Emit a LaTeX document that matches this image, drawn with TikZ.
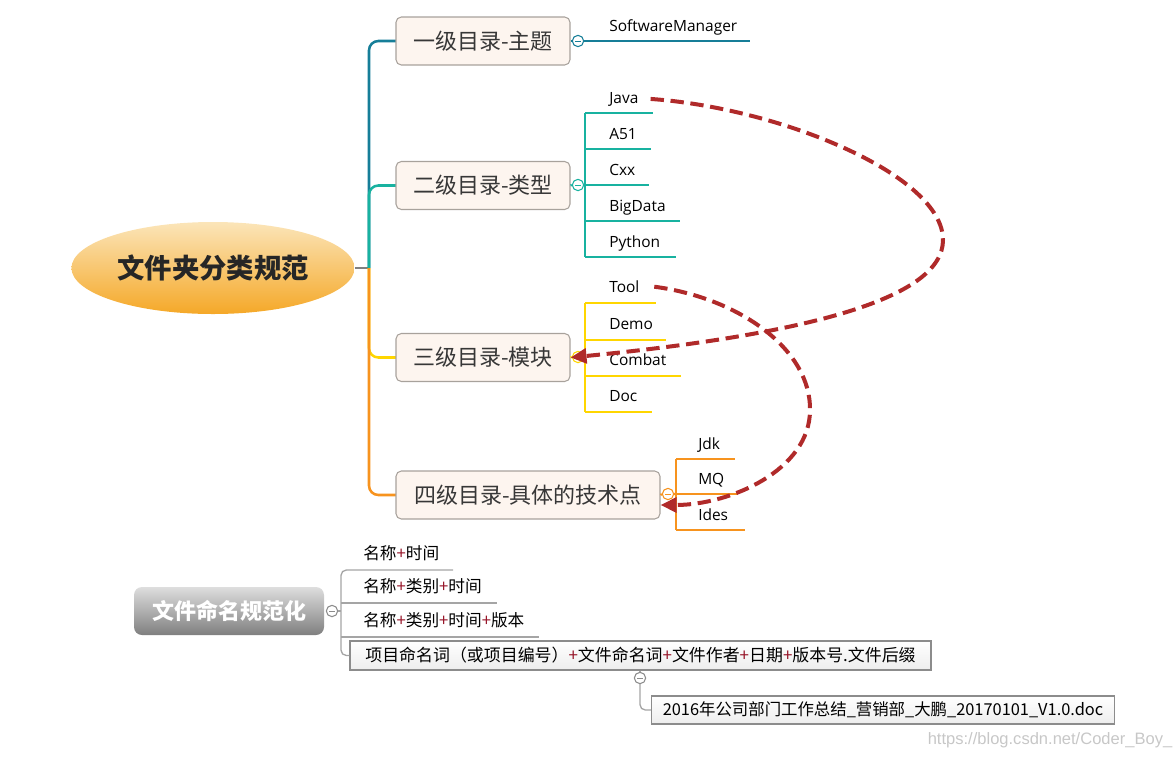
\documentclass[tikz,border=0pt]{standalone}
\usepackage{fontspec}
\setmainfont{Open Sans}
\newfontfamily\cjk{Noto Sans CJK SC}
\newfontfamily\wmfont{Liberation Sans}
\usetikzlibrary{arrows.meta,shapes.geometric}
\definecolor{cTeal}{RGB}{22,126,152}
\definecolor{cGreen}{RGB}{24,178,160}
\definecolor{cYellow}{RGB}{255,214,0}
\definecolor{cOrange}{RGB}{247,147,30}
\definecolor{cRed}{RGB}{176,42,42}
\definecolor{boxFill}{RGB}{253,245,239}
\definecolor{boxLine}{RGB}{168,162,156}
\definecolor{txtDark}{RGB}{55,55,55}
\definecolor{plusRed}{RGB}{150,20,40}
\definecolor{treeGray}{RGB}{165,165,165}
\definecolor{ellTop}{RGB}{251,229,185}
\definecolor{ellBot}{RGB}{245,168,40}
\newcommand\plusr{\textcolor{plusRed}{+}}
\begin{document}
\begin{tikzpicture}[x=0.75pt,y=-0.75pt,
  lvbox/.style={draw=boxLine, fill=boxFill, rounded corners=4pt, line width=0.8pt,
    minimum height=36pt, inner sep=0pt, font=\cjk\fontsize{16.5}{18}\selectfont, text=txtDark},
  knob/.style={circle, draw=#1, fill=white, line width=0.8pt, minimum size=8.5pt, inner sep=0pt,
    path picture={\draw[#1, line width=0.6pt] ([xshift=-2.2pt]path picture bounding box.center) -- ([xshift=2.2pt]path picture bounding box.center);}},
  trunk/.style={line width=1.9pt, rounded corners=7pt},
  leaf/.style={line width=1.6pt},
  leaftext/.style={anchor=base west, inner sep=0pt, font=\fontsize{11.6}{13}\selectfont, text=black},
  link/.style={draw=cRed, line width=3pt, dash pattern=on 10pt off 5pt, -{Triangle[length=12pt,width=11pt]}},
  note/.style={anchor=base west, inner sep=0pt, font=\cjk\fontsize{12.5}{14}\selectfont, text=black},
  flatbox/.style={draw=black!45, top color=white, bottom color=black!7, line width=0.8pt, inner sep=0pt,
    font=\cjk\fontsize{12.5}{14}\selectfont, text=black},
  tree/.style={draw=treeGray, line width=1pt},
  wm/.style={font=\wmfont\fontsize{12.4}{14}\selectfont, text=black!22, inner sep=0pt}
]
\useasboundingbox (0,0) rectangle (1175,758);

% root
\node[ellipse, minimum width=212pt, minimum height=69pt, top color=ellTop, bottom color=ellBot,
      draw=none, font=\cjk\bfseries\fontsize{20.5}{22}\selectfont, text=black!85] (root) at (213,268) {文件夹分类规范};
\coordinate (hub) at (369,268);

% trunk branches (drawn to fixed box edges, boxes drawn over them)
\coordinate (b1w) at (396,41);
\coordinate (b2w) at (396,185.5);
\coordinate (b3w) at (396,357.5);
\coordinate (b4w) at (396,495);
\draw[line width=2.2pt, black!50] (root.east) -- (hub);
\draw[trunk, cTeal] (hub) |- (b1w);
\draw[trunk, cGreen] (hub) |- (b2w);
\draw[trunk, cYellow] (hub) |- (b3w);
\draw[trunk, cOrange] (hub) |- (b4w);

% level boxes
\node[lvbox, minimum width=130.5pt] (b1) at (483,41) {一级目录-主题};
\node[lvbox, minimum width=130.5pt] (b2) at (483,185.5) {二级目录-类型};
\node[lvbox, minimum width=130.5pt] (b3) at (483,357.5) {三级目录-模块};
\node[lvbox, minimum width=198pt] (b4) at (528,495) {四级目录-具体的技术点};

% knobs
\node[knob=cTeal] (k1) at (578,41) {};
\node[knob=cGreen] (k2) at (578,185) {};
\node[knob=cYellow] (k3) at (578,357) {};
\node[knob=cOrange] (k4) at (668,494) {};

% level 1 child
\node[leaftext] (sw) at (609,31) {SoftwareManager};
\coordinate (sw-r) at (750,41);
\draw[leaf, cTeal] (b1.east) -- (k1.west) (k1.east) -- (sw-r);

% level 2 children
\foreach \name/\txt/\ly/\lx in {java/Java/113/653, a51/A51/149/651, cxx/Cxx/185/649, bigdata/BigData/221/680, python/Python/257/676}{
  \node[leaftext] (\name) at (609,\ly-10) {\txt};
  \coordinate (\name-l) at (585,\ly);
  \coordinate (\name-r) at (\lx,\ly);
  \draw[leaf, cGreen] (\name-l) -- (\name-r);
}
\draw[leaf, cGreen] (java-l) -- (python-l);
\draw[leaf, cGreen] (b2.east) -- (k2.west) (k2.east) -- (cxx-l);

% level 3 children
\foreach \name/\txt/\ly/\lx in {tool/Tool/303/656, demo/Demo/340/666, combat/Combat/376/681, doc/Doc/412/652}{
  \node[leaftext] (\name) at (609,\ly-10.5) {\txt};
  \coordinate (\name-l) at (585,\ly);
  \coordinate (\name-r) at (\lx,\ly);
  \draw[leaf, cYellow] (\name-l) -- (\name-r);
}
\coordinate (y3mid) at (585,357);
\draw[leaf, cYellow] (tool-l) -- (doc-l);
\draw[leaf, cYellow] (b3.east) -- (k3.west) (k3.east) -- (y3mid);

% level 4 children
\foreach \name/\txt/\ly/\lx in {jdk/Jdk/459/735, mq/MQ/494/738, ides/Ides/530/745}{
  \node[leaftext] (\name) at (698,\ly-10) {\txt};
  \coordinate (\name-l) at (676,\ly);
  \coordinate (\name-r) at (\lx,\ly);
  \draw[leaf, cOrange] (\name-l) -- (\name-r);
}
\draw[leaf, cOrange] (jdk-l) -- (ides-l);
\draw[leaf, cOrange] (b4.east) -- (k4.west) (k4.east) -- (mq-l);

% dashed relation arrows
\draw[link] ([xshift=9pt]java.east) .. controls (780,108) and (943,175) .. (943,240)
            .. controls (943,300) and (800,335) .. (b3.east);
\draw[link] ([xshift=11pt]tool.east) .. controls (740,298) and (811,350) .. (810,410)
            .. controls (810,470) and (730,505) .. ([yshift=-7.5pt]b4.east);

% naming section
\node[rounded corners=6pt, top color=black!13, bottom color=black!50, minimum width=142.5pt, minimum height=36pt,
      font=\cjk\bfseries\fontsize{16.5}{18}\selectfont, text=white, inner sep=0pt] (nm) at (229,611) {文件命名规范化};
\node[knob=black!45] (k5) at (332,611) {};
\coordinate (tv) at (341,611);
\draw[tree] (k5.east) -- (tv);

\node[note] (n1) at (363,559) {名称\plusr 时间};
\node[note] (n2) at (363,592) {名称\plusr 类别\plusr 时间};
\node[note] (n3) at (363,626) {名称\plusr 类别\plusr 时间\plusr 版本};
\node[flatbox, minimum width=435.75pt, minimum height=21.75pt, font=\cjk\fontsize{12.7}{14}\selectfont] (fmt) at (640.5,655.5)
  {项目命名词（或项目编号）\plusr 文件命名词\plusr 文件作者\plusr 日期\plusr 版本号.文件后缀};

\coordinate (n1-r) at (453,570);
\coordinate (tl) at (341,570);
\coordinate (n2-l) at (341,603);
\coordinate (n2-r) at (497,603);
\coordinate (n3-l) at (341,637);
\coordinate (n3-r) at (539,637);
\draw[tree, rounded corners=4pt] (n1-r) -- (tl) |- (fmt.west);
\draw[tree] (n2-l) -- (n2-r);
\draw[tree] (n3-l) -- (n3-r);

\node[knob=black!45] (k6) at (640,678) {};
\draw[tree] (fmt.south -| k6) -- (k6.north);
\node[flatbox, minimum width=347.25pt, minimum height=21pt, font=\cjk\fontsize{12.3}{14}\selectfont] (ex) at (883,710)
  {2016年公司部门工作总结\_营销部\_大鹏\_20170101\_V1.0.doc};
\draw[tree, rounded corners=4pt] (k6.south) |- (ex.west);

\node[wm] (wmark) at (1050,740) {https://blog.csdn.net/Coder\_Boy\_};
\end{tikzpicture}
\end{document}
